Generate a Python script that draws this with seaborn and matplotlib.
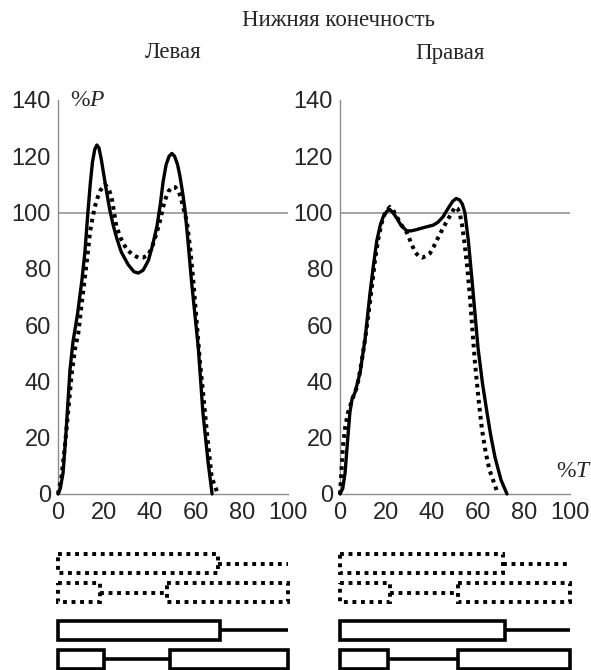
import numpy as np
import seaborn as sns
import matplotlib.pyplot as plt

sns.set_style("white")
plt.rcParams['font.family'] = ['Liberation Sans', 'DejaVu Sans']
plt.rcParams['mathtext.fontset'] = 'custom'
plt.rcParams['mathtext.rm'] = 'Liberation Serif'
plt.rcParams['mathtext.it'] = 'Liberation Serif:italic'

# Curves: % of gait cycle (T) vs % load (P)
left_solid_t = [0, 1, 2.2, 3.5, 5.2, 6.5, 8.5, 10.4, 11.7, 13, 14, 15, 16, 16.9, 17.8, 18.8,
                20, 21, 22.5, 24, 25.5, 27.5, 30.5, 33, 34.9, 37, 39.3, 41, 43, 44.5, 45.7,
                47, 48.3, 49.5, 50.7, 52, 53, 54.2, 55.2, 56.5, 58, 59.5, 61, 63, 65.3, 67]
left_solid_p = [0, 2, 7.5, 22, 44, 54, 64, 76, 86, 100, 110, 118, 122.5, 124, 123, 119,
                113, 108, 101, 95.5, 91, 86, 81.5, 79, 78.5, 79.5, 83, 88, 95, 103, 111,
                117, 120, 121, 120, 117, 113, 107, 101, 90, 76, 64, 52, 29, 11, 0]
left_dot_t = [0, 1.5, 3, 4.5, 6, 7.5, 8.8, 10.2, 11.7, 13, 13.9, 15, 16, 17.3, 18.5, 20.4,
              22, 23.3, 24.3, 25.4, 27.5, 29.8, 32.5, 34.9, 37, 39.3, 41, 43, 44.5, 45.7,
              46.8, 48, 49.5, 51, 52.5, 53.5, 55, 56, 57.5, 58.8, 60.2, 61.7, 63.2, 64.6,
              66.8, 69.5]
left_dot_p = [0, 6, 17, 30, 43, 52, 57, 67, 77, 86, 93, 98, 102, 105.5, 108, 110,
              108.5, 105.5, 100.5, 95, 90.5, 87, 85, 84, 84, 85, 88, 93, 97.5, 102,
              105, 107.5, 109, 109, 107.5, 105, 100, 97, 87, 76, 62, 47, 35, 23,
              6, 0]
right_solid_t = [0, 1.2, 2.2, 3.2, 4.3, 5.3, 6.5, 8.7, 10.9, 13, 14.5, 16, 17.5, 18.8, 20.4,
                 21.7, 23, 24.7, 26.5, 29, 31, 33.5, 37, 40.4, 42.5, 44.8, 47, 49, 50.5, 52,
                 53.2, 54.3, 55.8, 57.4, 60, 62, 63.9, 65.5, 67.4, 70, 72.6]
right_solid_p = [0, 2, 7.5, 18, 29, 34, 36, 43, 55, 71, 81, 90, 95.5, 98.5, 100.5,
                 101, 100, 98, 95.5, 93.5, 93.5, 94, 94.8, 95.5, 96.5, 98.5, 101.5, 104, 105, 104.5,
                 103, 100, 90, 76, 52, 39, 29, 21, 13, 5, 0]
right_dot_t = [0, 1.3, 2.3, 3.5, 5.5, 7.4, 9, 10.9, 12.4, 13.9, 15.2, 16.5, 18, 19.6, 21.7,
               23, 24.7, 26.8, 29, 30.8, 32.6, 34.2, 35.7, 37.3, 39.1, 40.8, 42.6, 44.5, 46.5,
               48.3, 50, 51, 52, 53.2, 54.3, 55.4, 56.5, 57.6, 58.7, 60.2, 61.7, 63.3, 65, 68.7]
right_dot_p = [0, 17, 24, 29, 34, 38, 45, 55, 64, 74, 83, 90, 96, 100, 102,
               101, 98.5, 95.5, 93, 89.5, 86, 84.5, 84, 84.5, 85.5, 88, 91, 94, 97,
               99.5, 102, 101.5, 100, 95, 88, 80, 70, 58, 46.5, 34, 23, 15, 8.5, 0]

# Gait phase bars: (start, end) of stance boxes and swing lines, per row
left_bars = {
    'dot': {'rows': [[(0, 69.5)], [(0, 18.3), (47.4, 100)]],
            'lines': [[(69.5, 100)], [(18.3, 47.4)]]},
    'solid': {'rows': [[(0, 70.4)], [(0, 20), (48.7, 100)]],
              'lines': [[(70.4, 100)], [(20, 48.7)]]},
}
right_bars = {
    'dot': {'rows': [[(0, 70.9)], [(0, 21.7), (51.3, 100)]],
            'lines': [[(70.9, 99)], [(21.7, 51.3)]]},
    'solid': {'rows': [[(0, 71.7)], [(0, 20.9), (51.3, 100)]],
              'lines': [[(71.7, 100)], [(20.9, 51.3)]]},
}

W, H = 591, 670
fig = plt.figure(figsize=(W / 100, H / 100), dpi=100)

grey = '#8c8c8c'
panels = [
    (58, left_solid_t, left_solid_p, left_dot_t, left_dot_p, left_bars),
    (340, right_solid_t, right_solid_p, right_dot_t, right_dot_p, right_bars),
]

axes = []
for x0, st, sp, dt, dp, bars in panels:
    ax = fig.add_axes([x0 / W, (H - 494) / H, 230 / W, 394 / H])
    ax.axhline(100, color=grey, lw=1.1, zorder=1)
    sns.lineplot(x=dt, y=dp, ax=ax, color='black', lw=2.9,
                 linestyle=(0, (0.9, 1.1)), sort=False, clip_on=False, zorder=3)
    sns.lineplot(x=st, y=sp, ax=ax, color='black', lw=2.4,
                 sort=False, clip_on=False, zorder=4)
    ax.set_xlim(0, 100)
    ax.set_ylim(0, 140)
    for s in ['top', 'right']:
        ax.spines[s].set_visible(False)
    for s in ['left', 'bottom']:
        ax.spines[s].set_color(grey)
        ax.spines[s].set_linewidth(1.0)
    ax.set_yticks(np.arange(0, 141, 20))
    ax.set_xticks(np.arange(0, 101, 20))
    ax.set_xticks(np.arange(0, 101, 10), minor=True)
    ax.tick_params(axis='y', direction='out', length=4, width=1, color=grey,
                   labelsize=17, pad=1)
    ax.tick_params(axis='x', which='both', direction='inout', length=7, width=1,
                   color=grey, labelsize=17, pad=2)
    ax.set_xlabel('')
    ax.set_ylabel('')
    axes.append(ax)

    # gait phase diagram below
    bx = fig.add_axes([x0 / W, 0, 230 / W, 125 / H])
    bx.set_xlim(0, 100)
    bx.set_ylim(3.67, -0.64)
    bx.axis('off')
    ypos = {'dot': [0, 1], 'solid': [2.3, 3.3]}
    for kind in ['dot', 'solid']:
        ls = (0, (1, 1.2)) if kind == 'dot' else '-'
        lw = 2.8 if kind == 'dot' else 2.6
        for r, y in enumerate(ypos[kind]):
            for a, b in bars[kind]['lines'][r]:
                bx.hlines(y, a, b, color='black', lw=lw, linestyle=ls, clip_on=False)
            for a, b in bars[kind]['rows'][r]:
                bx.barh(y, b - a, left=a, height=0.65, color='white',
                        edgecolor='black', lw=lw, linestyle=ls, clip_on=False, zorder=3)

# Texts
serif = ['Liberation Serif', 'DejaVu Serif']
fig.text(338 / W, 1 - 21 / H, 'Нижняя конечность', ha='center', va='center',
         fontsize=16.5, family=serif)
fig.text(173 / W, 1 - 53 / H, 'Левая', ha='center', va='center', fontsize=16.5, family=serif)
fig.text(450 / W, 1 - 53 / H, 'Правая', ha='center', va='center', fontsize=16.5, family=serif)
axes[0].text(5, 140, '%$P$', ha='left', va='center', fontsize=17, family=serif, clip_on=False)
axes[1].text(94, 8, '%$T$', ha='left', va='center', fontsize=17, family=serif, clip_on=False)

fig.savefig('out.png', dpi=100)
